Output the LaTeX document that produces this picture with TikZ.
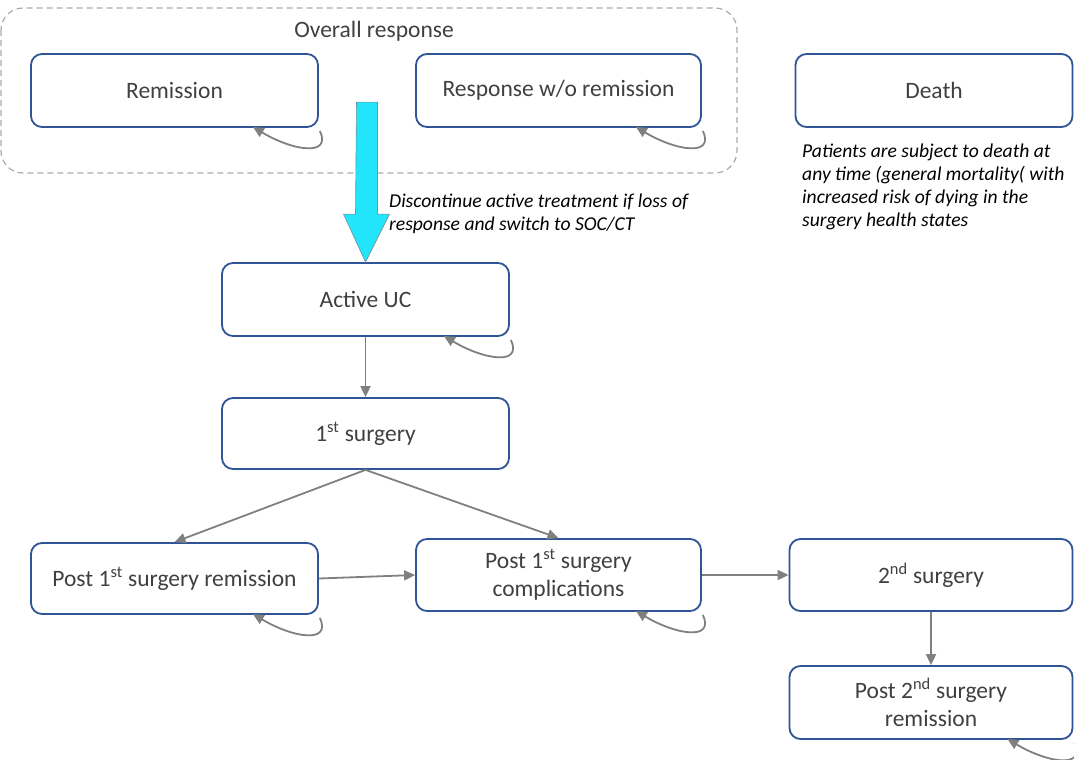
\documentclass[tikz,border=0pt]{standalone}
\usepackage{fontspec}
\setmainfont{Carlito}
\usetikzlibrary{arrows.meta}
\definecolor{boxblue}{RGB}{47,85,151}
\definecolor{linegray}{RGB}{128,128,128}
\definecolor{textgray}{RGB}{64,64,64}
\definecolor{dashgray}{RGB}{170,170,170}
\definecolor{cyanfill}{RGB}{34,228,250}
\tikzset{
  state/.style={draw=boxblue, line width=1.8pt, rounded corners=11pt, fill=white,
    minimum width=287pt, minimum height=73pt, align=center, text=textgray,
    font=\fontsize{23.5}{28}\selectfont},
  trans/.style={draw=linegray, line width=1.8pt, -{Triangle[length=11pt,width=10pt]}},
  note/.style={align=left, anchor=north west, text=black, inner sep=0pt,
    font=\fontsize{19.6}{23}\selectfont\itshape}
}
\begin{document}
\begin{tikzpicture}[x=1pt,y=-1pt]
  \useasboundingbox (0,0) rectangle (1074,760);
  % overall response group
  \draw[dashgray, line width=1.2pt, dash pattern=on 6pt off 4pt, rounded corners=22pt] (1,8) rectangle (737,173);
  \node[text=textgray, font=\fontsize{23.5}{28}\selectfont] (overall) at (374,31) {Overall response};
  \node[state] (rem) at (174.5,90.5) {Remission};
  \node[state, minimum width=285pt] (resp) at (558.5,90.5) {Response w/o remission};
  \node[state, minimum width=277pt] (death) at (934,90.5) {Death};
  \node[note] (deathnote) at (802,144) {Patients are subject to death at\\any time (general mortality( with\\increased risk of dying in the\\surgery health states};
  % main chain
  \node[state] (actv) at (365.5,299.5) {Active UC};
  \node[state, minimum height=71pt] (surg1) at (365.5,433.5) {1\textsuperscript{st} surgery};
  \node[state, minimum height=71pt] (prem) at (174.5,578.5) {Post 1\textsuperscript{st} surgery remission};
  \node[state, minimum width=285pt, minimum height=72pt] (pcomp) at (558.5,575) {Post 1\textsuperscript{st} surgery\\complications};
  \node[state, minimum width=283pt, minimum height=72pt] (surg2) at (931,575) {2\textsuperscript{nd} surgery};
  \node[state, minimum width=283pt] (prem2) at (931,702.5) {Post 2\textsuperscript{nd} surgery\\remission};
  % switch arrow
  \draw[draw=linegray!80!cyanfill, line width=0.6pt, fill=cyanfill]
    ([xshift=-9pt]actv.north) ++(0,-160) -- ++(21,0) -- ++(0,112) -- ++(12,0)
    -- (actv.north) -- ++(-22,-48) -- ++(12,0) -- cycle;
  \node[note] (switchnote) at (389,194) {Discontinue active treatment if loss of\\response and switch to SOC/CT};
  % transitions
  \draw[trans] (actv) -- (surg1);
  \draw[trans] (surg1.south) -- (prem.north);
  \draw[trans] (surg1.south) -- (pcomp.north);
  \draw[trans] (prem.east) -- (pcomp.west);
  \draw[trans] (pcomp.east) -- (surg2.west);
  \draw[trans] (surg2) -- (prem2);
  % self loops
  \foreach \s in {rem,resp,actv,prem,pcomp,prem2}
    \draw[trans] ([xshift=1pt,yshift=-3pt]\s.south east) .. controls +(12,26) and +(40,24) .. ([xshift=-66pt,yshift=1pt]\s.south east);
\end{tikzpicture}
\end{document}
